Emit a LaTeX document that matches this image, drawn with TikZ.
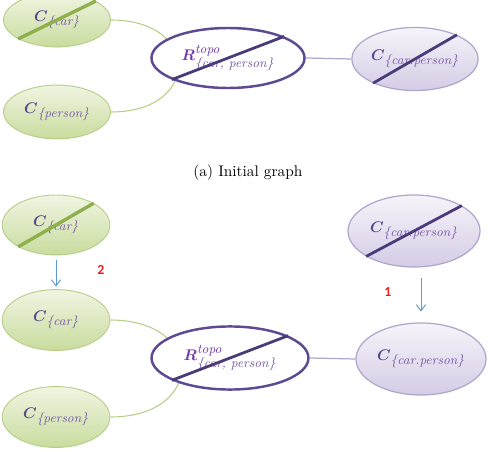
\documentclass[tikz,border=0pt]{standalone}
\usepackage{fontspec}
\usepackage{amsmath}
\usepackage{bm}
\usetikzlibrary{arrows.meta,shapes.geometric}
\newfontfamily\numfont{Carlito}
\definecolor{LeafTop}{HTML}{F0F5E2}
\definecolor{LeafBot}{HTML}{C9DC9E}
\definecolor{LeafLine}{HTML}{B8CE88}
\definecolor{LeafMark}{HTML}{8DB04C}
\definecolor{LilacTop}{HTML}{F6F4FA}
\definecolor{LilacBot}{HTML}{D4CCE5}
\definecolor{LilacLine}{HTML}{B0A6CC}
\definecolor{Plum}{HTML}{5E4A93}
\definecolor{PlumMark}{HTML}{4A3A7A}
\definecolor{Ink}{HTML}{56478A}
\definecolor{SubInk}{HTML}{7A5BA8}
\definecolor{TopoInk}{HTML}{7436A6}
\definecolor{Flow}{HTML}{5B9BD5}
\definecolor{Marker}{HTML}{E81E1E}
\newcommand{\subtxt}[2]{\text{\fontsize{8.5pt}{9pt}\selectfont\itshape\color{#1}#2}}
\newcommand{\cset}[1]{$\textcolor{Ink}{\bm{C}}_{\subtxt{SubInk}{\{#1\}}}$}
\newcommand{\rtopo}{$\textcolor{TopoInk}{\bm{R}}^{\subtxt{TopoInk}{topo}}_{\subtxt{SubInk}{\{car, person\}}}$}
\tikzset{
  leaf/.style={ellipse,draw=LeafLine,line width=0.6pt,top color=LeafTop,bottom color=LeafBot,minimum width=70pt,minimum height=39pt,inner sep=0pt},
  lilac/.style={ellipse,draw=LilacLine,line width=0.8pt,top color=LilacTop,bottom color=LilacBot,minimum width=85pt,minimum height=46pt,inner sep=0pt},
  rel/.style={ellipse,draw=Plum,line width=1.6pt,fill=white,minimum width=100pt,minimum height=40pt,inner sep=0pt},
  leafmark/.style={draw=LeafMark,line width=2.2pt},
  plummark/.style={draw=PlumMark,line width=1.8pt},
  leaflink/.style={draw=LeafLine,line width=0.7pt},
  lilaclink/.style={draw=LilacLine,line width=0.8pt},
  flow/.style={-{Straight Barb[length=4pt,width=6pt]},draw=Flow,line width=0.6pt},
  stepnum/.style={text=Marker,font=\numfont\bfseries\small},
  subcap/.style={font=\normalsize}
}
\begin{document}
\begin{tikzpicture}[x=0.65pt,y=-0.65pt]
  \useasboundingbox (0,0) rectangle (490,452);
  % (a) initial graph
  \node[leaf,minimum width=69.5pt,minimum height=35pt] (carA) at (57,20) {\cset{car}};
  \draw[leafmark] (carA.206) -- (carA.26);
  \node[leaf,minimum width=69.5pt,minimum height=35pt] (personA) at (57,112) {\cset{person}};
  \draw[leaflink] (carA.east) .. controls +(90,0) and +(90,0) .. (personA.east);
  \node[rel,minimum width=99.5pt,minimum height=39pt] (relA) at (228,58) {\rtopo};
  \draw[plummark] (relA.201) -- (relA.21);
  \node[lilac,minimum width=82pt,minimum height=41pt] (cpA) at (415,59) {\cset{car.person}};
  \draw[plummark] (cpA.210) -- (cpA.30);
  \draw[lilaclink] (relA.east) -- (cpA.west);
  \node[subcap] (capA) at (248,173) {(a) Initial graph};
  % updated graph
  \node[leaf,minimum width=70pt,minimum height=39pt] (carB) at (56,225) {\cset{car}};
  \draw[leafmark] (carB.210) -- (carB.30);
  \node[leaf,minimum width=70pt,minimum height=39.6pt] (carC) at (56,320) {\cset{car}};
  \node[leaf,minimum width=70pt,minimum height=39.6pt] (personB) at (56,417) {\cset{person}};
  \draw[flow,shorten <=3.2pt,shorten >=1.6pt] (carB) -- (carC);
  \draw[leaflink] (carC.east) .. controls +(95,0) and +(95,0) .. (personB.east);
  \node[rel,minimum width=102pt,minimum height=41pt] (relB) at (230,358) {\rtopo};
  \draw[plummark] (relB.201) -- (relB.21);
  \node[lilac,minimum width=85.8pt,minimum height=46.8pt] (cpB) at (414,231) {\cset{car.person}};
  \draw[plummark] (cpB.208) -- (cpB.28);
  \node[lilac,minimum width=84.5pt,minimum height=46.8pt] (cpC) at (421,359) {\cset{car.person}};
  \draw[lilaclink] (relB.east) -- (cpC.west);
  \draw[flow,shorten <=7pt,shorten >=7pt] (cpB.south -| cpC.north) -- (cpC.north);
  \node[stepnum] (two) at (101,270) {2};
  \node[stepnum] (one) at (388,292) {1};
\end{tikzpicture}
\end{document}
